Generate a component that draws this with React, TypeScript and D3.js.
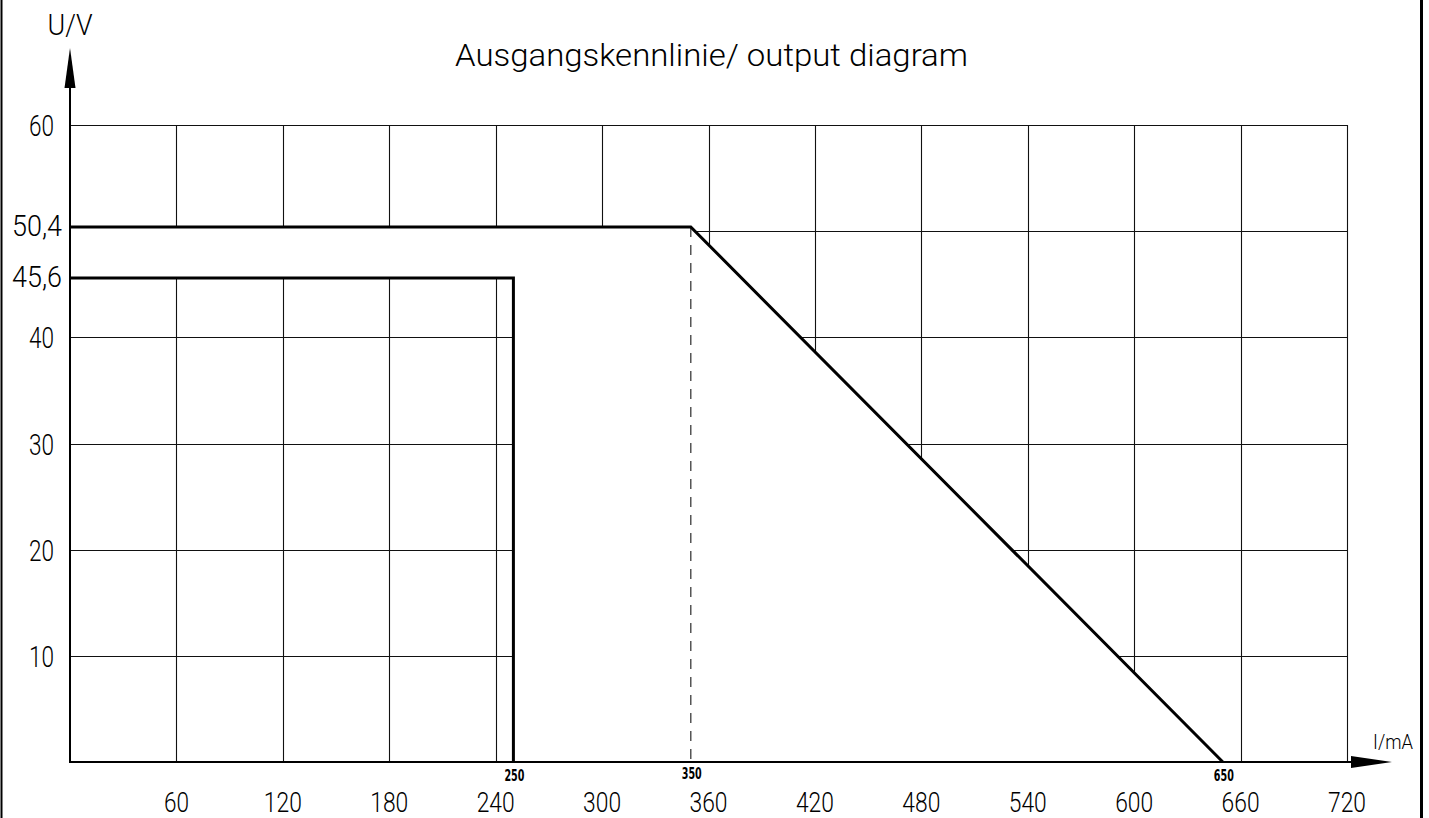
import React from "react";
import * as d3 from "d3";

const xTicks = [60, 120, 180, 240, 300, 360, 420, 480, 540, 600, 660, 720];
const yGrid = [10, 20, 30, 40, 50, 60];
const yLabels = [10, 20, 30, 40, 60];
const markedVoltages = [50.4, 45.6];
const markedVoltageLabels = ["50,4", "45,6"];
const markedCurrents = [250, 350, 650];
const curveHigh = [
  { i: 0, u: 50.4 },
  { i: 350, u: 50.4 },
  { i: 650, u: 0 },
];
const curveLow = [
  { i: 0, u: 45.6 },
  { i: 250, u: 45.6 },
  { i: 250, u: 0 },
];
const title = "Ausgangskennlinie/ output diagram";
const yAxisLabel = "U/V";
const xAxisLabel = "I/mA";

const W = 1429;
const H = 818;
const FONT = "Roboto, 'DejaVu Sans Condensed', sans-serif";
const SMALLFONT = "'DejaVu Sans Condensed', 'Liberation Sans Narrow', Roboto, sans-serif";

export default function App() {
  const x = d3.scaleLinear().domain([0, 720]).range([70, 1347]);
  const y = d3.scaleLinear().domain([0, 60]).range([762, 125]);
  const line = d3
    .line<{ i: number; u: number }>()
    .x((d) => x(d.i))
    .y((d) => y(d.u));

  const maskPoly = [
    { i: 0, u: 0 },
    { i: 0, u: 50.4 },
    { i: 350, u: 50.4 },
    { i: 650, u: 0 },
  ];
  const polyPath = line(maskPoly) + "Z";

  const x0 = x(0);
  const y0 = y(0);

  const labelLen = (s: string) => s.length * 13 - 1;

  return (
    <svg
      width={W}
      height={H}
      viewBox={`0 0 ${W} ${H}`}
      style={{ position: "absolute", left: 0, top: 0, background: "#fff" }}
    >
      <defs>
        <mask id="gridMask" maskUnits="userSpaceOnUse" x={0} y={0} width={W} height={H}>
          <rect x={0} y={0} width={W} height={H} fill="#fff" />
          <path d={polyPath} fill="#000" />
          <rect
            x={x(0)}
            y={y(45.6)}
            width={x(250) - x(0)}
            height={y(0) - y(45.6)}
            fill="#fff"
          />
        </mask>
      </defs>
      <rect x={0} y={0} width={W} height={H} fill="#fff" />

      {/* frame */}
      <line x1={1.5} y1={0} x2={1.5} y2={H} stroke="#000" strokeWidth={2} />
      <line x1={1421.5} y1={0} x2={1421.5} y2={H} stroke="#000" strokeWidth={3} />

      {/* grid */}
      <g mask="url(#gridMask)" stroke="#111" strokeWidth={1.1}>
        {xTicks.map((t) => (
          <line key={"vx" + t} x1={Math.round(x(t)) + 0.5} x2={Math.round(x(t)) + 0.5} y1={y(60)} y2={y0} />
        ))}
        {yGrid.map((t) => (
          <line key={"hy" + t} x1={x0} x2={x(720)} y1={Math.round(y(t)) + 0.5} y2={Math.round(y(t)) + 0.5} />
        ))}
      </g>

      {/* dashed reference at 350 mA */}
      <line
        x1={x(350)}
        x2={x(350)}
        y1={y(50.4)}
        y2={y0}
        stroke="#555"
        strokeWidth={1.5}
        strokeDasharray="10 8"
      />

      {/* curves */}
      <path d={line(curveHigh) || ""} fill="none" stroke="#000" strokeWidth={3} strokeLinejoin="miter" />
      <path d={line(curveLow) || ""} fill="none" stroke="#000" strokeWidth={3} strokeLinejoin="miter" />

      {/* axes */}
      <line x1={x0} x2={x0} y1={y0 + 1} y2={86} stroke="#000" strokeWidth={2} />
      <path d={`M${x0},48 L${x0 - 5.5},88 L${x0 + 5.5},88 Z`} fill="#000" />
      <line x1={x0 - 1} x2={1353} y1={y0} y2={y0} stroke="#000" strokeWidth={2} />
      <path d={`M1392,${y0} L1351,${y0 - 6} L1351,${y0 + 6} Z`} fill="#000" />

      {/* axis labels */}
      <text x={x0} y={35} fontFamily={FONT} fontWeight={300} fontSize={30} textAnchor="middle" textLength={45} lengthAdjust="spacingAndGlyphs">
        {yAxisLabel}
      </text>
      <text x={1393} y={749} fontFamily={FONT} fontWeight={300} fontSize={21} textAnchor="middle" textLength={40} lengthAdjust="spacingAndGlyphs">
        {xAxisLabel}
      </text>

      {/* title */}
      <text x={711.5} y={66} fontFamily={FONT} fontWeight={300} fontSize={31} textAnchor="middle" textLength={513} lengthAdjust="spacingAndGlyphs">
        {title}
      </text>

      {/* x tick labels */}
      {xTicks.map((t) => (
        <text
          key={"xl" + t}
          x={x(t)}
          y={812}
          fontFamily={FONT}
          fontWeight={300}
          fontSize={27}
          textAnchor="middle"
          textLength={labelLen(String(t))}
          lengthAdjust="spacingAndGlyphs"
        >
          {t}
        </text>
      ))}

      {/* y tick labels */}
      {yLabels.map((t) => (
        <text
          key={"yl" + t}
          x={54}
          y={y(t) + 11}
          fontFamily={FONT}
          fontWeight={300}
          fontSize={30}
          textAnchor="end"
          textLength={labelLen(String(t))}
          lengthAdjust="spacingAndGlyphs"
        >
          {t}
        </text>
      ))}
      {markedVoltages.map((v, k) => (
        <text
          key={"mv" + v}
          x={62}
          y={y(v) + 9}
          fontFamily={FONT}
          fontWeight={300}
          fontSize={30}
          textAnchor="end"
          textLength={50}
          lengthAdjust="spacingAndGlyphs"
        >
          {markedVoltageLabels[k]}
        </text>
      ))}

      {/* marked currents */}
      {markedCurrents.map((c) => (
        <text
          key={"mc" + c}
          x={x(c) + 1}
          y={c === 350 ? 779 : 781}
          fontFamily={SMALLFONT}
          fontSize={15}
          fontWeight="bold"
          textAnchor="middle"
          textLength={20}
          lengthAdjust="spacingAndGlyphs"
        >
          {c}
        </text>
      ))}
    </svg>
  );
}
